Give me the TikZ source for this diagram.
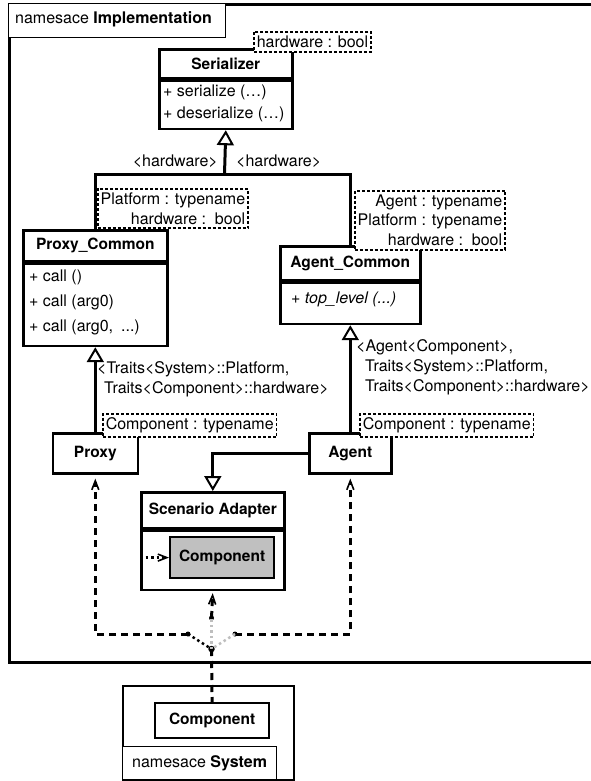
\documentclass[tikz,border=0pt]{standalone}
\usepackage{fontspec}
\setmainfont{TeX Gyre Heros}
\usetikzlibrary{arrows.meta}
\newcommand\umlfont{\fontsize{16}{19.5}\selectfont}
\newcommand\umlheadfont{\fontsize{15.5}{19.5}\selectfont\bfseries}
\definecolor{compfill}{RGB}{192,192,192}
\definecolor{lightdot}{RGB}{190,190,190}
\begin{document}
\begin{tikzpicture}[x=1pt,y=-1pt,
  every node/.style={font=\umlfont},
  txt/.style={inner sep=0pt, text height=11.5pt, text depth=3.5pt},
  cls/.style={draw, line width=2.6pt, inner sep=0pt, anchor=north west, fill=white},
  hdr/.style={cls, font=\umlheadfont},
  tab/.style={draw, line width=1.2pt, inner sep=0pt, anchor=north west, fill=white},
  param/.style={draw, fill=white, line width=1.6pt, dash pattern=on 3pt off 2pt,
    inner xsep=3pt, inner ysep=4pt, align=right},
  conn/.style={line width=3pt},
  gen/.style={conn, -{Triangle[open, length=15pt, width=17pt, line width=2pt]}},
  dep/.style={-{Straight Barb[length=9pt, width=7pt, line width=1.6pt]}},
  dashline/.style={line width=3pt, dash pattern=on 7pt off 5pt},
  dotline/.style={line width=2.5pt, dash pattern=on 2.5pt off 3pt},
  lightline/.style={dotline, draw=lightdot},
  dot/.style={circle, fill=black, inner sep=0pt, minimum size=5pt},
]
\useasboundingbox (0,0) rectangle (591,781);
\clip (0,0) rectangle (591,781);

% namespace Implementation
\node[draw, line width=3pt, anchor=north west, minimum width=620pt, minimum height=658pt, inner sep=0pt] (impl) at (8,3) {};
\node[tab, minimum width=217pt, minimum height=34pt] (impltab) at (8,3) {};
\node[txt, anchor=west] (impltxt) at (15,20) {namesace \textbf{Implementation}};

% Serializer
\node[hdr, minimum width=133pt, minimum height=29pt] (ser) at (158,48) {Serializer};
\node[cls, minimum width=133pt, minimum height=48pt] (serb) at (ser.south west) {};
\node[txt, anchor=west] (ser1) at (163,93) {+ serialize (…)};
\node[txt, anchor=west] (ser2) at (163,115) {+ deserialize (…)};
\node[param, anchor=north east] (serp) at (372,31) {hardware : bool};

% Proxy_Common
\node[hdr, minimum width=144pt, minimum height=31pt] (pc) at (22,229) {Proxy\_Common};
\node[cls, minimum width=144pt, minimum height=82pt] (pcb) at (pc.south west) {};
\node[txt, anchor=west] (pc1) at (29,277) {+ call ()};
\node[txt, anchor=west] (pc2) at (29,302) {+ call (arg0)};
\node[txt, anchor=west] (pc3) at (29,327) {+ call (arg0,\enspace...)};
\node[param, anchor=north east] (pcp) at (249,188) {Platform : typename\\hardware :\ \ bool};

% Agent_Common
\node[hdr, minimum width=140pt, minimum height=34pt] (ac) at (279,245) {Agent\_Common};
\node[cls, minimum width=140pt, minimum height=41pt] (acb) at (ac.south west) {};
\node[txt, anchor=west] (ac1) at (291,299) {\itshape + top\_level (...)};
\node[param, anchor=north east] (acp) at (506,190) {Agent : typename\\Platform : typename\\hardware :\ \ bool};

% Proxy and Agent
\node[hdr, minimum width=85pt, minimum height=40pt] (proxy) at (51.5,432) {Proxy};
\node[hdr, minimum width=82pt, minimum height=40pt] (agent) at (308,432) {Agent};
\node[param, anchor=north west] (proxyp) at (102,413) {Component : typename};
\node[param, anchor=north west] (agentp) at (359,413) {Component : typename};

% Scenario Adapter with the wrapped Component
\node[hdr, minimum width=143pt, minimum height=36pt] (sa) at (140,491) {Scenario Adapter};
\node[cls, minimum width=143pt, minimum height=59pt] (sab) at (sa.south west) {};
\node[hdr, fill=compfill, line width=2.2pt, minimum width=104pt, minimum height=41pt] (comp) at (169,536) {Component};

% namespace System
\node[draw, line width=2pt, anchor=north west, minimum width=171pt, minimum height=94pt, inner sep=0pt] (sys) at (122,685) {};
\node[hdr, line width=2.2pt, minimum width=114pt, minimum height=35pt] (sysc) at (154,702) {Component};
\node[tab, minimum width=154pt, minimum height=33pt] (systab) at (122,746) {};
\node[txt] (systxt) at (systab.center) {namesace \textbf{System}};

% generalisation connectors
\coordinate (hub) at (224.5,174);
\draw[conn] (pc.north) |- (hub) -| (ac.north);
\draw[gen] (hub) -- (serb.south);
\node[txt, anchor=east] (hwl) at (218,162) {<hardware>};
\node[txt, anchor=west] (hwr) at (236,162) {<hardware>};

\draw[gen] (proxy.north) -- (pcb.south);
\node[txt, anchor=west] (pl1) at (97,369) {<Traits<System>::Platform,};
\node[txt, anchor=west] (pl2) at (104,389) {Traits<Component>::hardware>};

\draw[gen] (agent.north) -- (acb.south);
\node[txt, anchor=west] (al1) at (356,347) {<Agent<Component>,};
\node[txt, anchor=west] (al2) at (365,367) {Traits<System>::Platform,};
\node[txt, anchor=west] (al3) at (365,387) {Traits<Component>::hardware>};

\draw[gen] (agent.west) -| (sa.north);

% dependencies from the system component
\node[dot] (dotL) at (188,634) {};
\node[dot] (dotR) at (235,634) {};
\node[dot] (dotM) at (211.5,618) {};
\node[dot, minimum size=6.5pt] (junc) at (211.5,649) {};

\draw[dashline, dep, shorten >=4pt] (dotL.center) -| (proxy.south);
\draw[dashline, dep, shorten >=4pt] (dotR.center) -| (agent.south);
\draw[dotline] (dotL.center) -- (junc.center);
\draw[lightline] (dotR.center) -- (junc.center);
\draw[lightline] (junc.center) -- (dotM.center);
\draw[dashline, dep, shorten >=2pt] (dotM.center) -- (sab.south);
\draw[dashline] (junc.center) -- (sysc.north);
\draw[dotline, dep] (sab.west |- comp.west) -- (comp.west);
\end{tikzpicture}
\end{document}
